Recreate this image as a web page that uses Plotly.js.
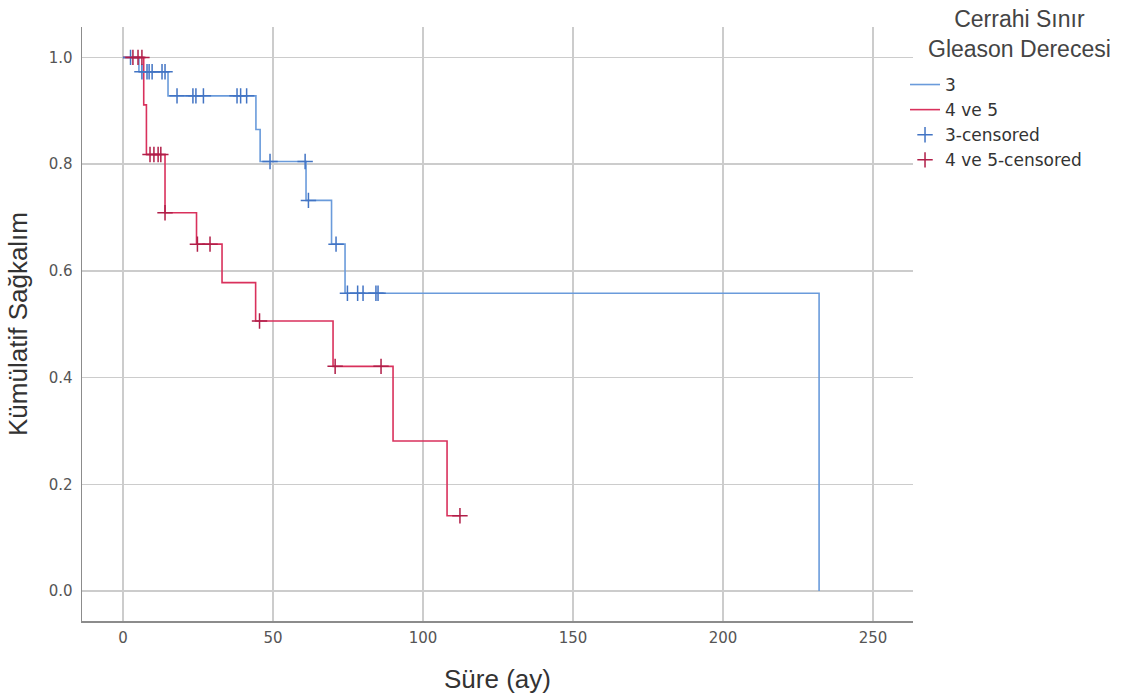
<!DOCTYPE html>
<html>
<head>
<meta charset="utf-8">
<script src="https://cdn.plot.ly/plotly-3.0.1.min.js"></script>
<style>html,body{margin:0;padding:0;background:#fff;}#chart{width:1129px;height:700px;}</style>
</head>
<body>
<div id="chart"></div>
<script>
// Group "3": Kaplan-Meier step (event times and survival after each step)
const g3Times    = [0, 5.3, 15, 44.3, 45.7, 61, 69.5, 74, 232];
const g3Surv     = [1.0, 0.973, 0.928, 0.865, 0.805, 0.732, 0.650, 0.558, 0.0];
// Group "4 ve 5"
const g45Times   = [0, 6.9, 7.8, 14, 24.5, 33, 44.2, 70, 90, 108, 112.5];
const g45Surv    = [1.0, 0.911, 0.818, 0.709, 0.650, 0.578, 0.506, 0.421, 0.281, 0.141, 0.141];
// Censored observations
const g3CensT    = [2.5, 6.3, 8, 8.7, 9.7, 13, 14, 18, 23.3, 24.3, 26.8, 38, 39.2, 41.2, 49, 60.7, 61.8, 71, 74.8, 78.2, 80, 84.3, 85];
const g3CensS    = [1.0, 0.973, 0.973, 0.973, 0.973, 0.973, 0.973, 0.928, 0.928, 0.928, 0.928, 0.928, 0.928, 0.928, 0.805, 0.805, 0.732, 0.650, 0.558, 0.558, 0.558, 0.558, 0.558];
const g45CensT   = [3.3, 5, 6.3, 9, 10.3, 11.7, 12.6, 14, 24.8, 29, 45.5, 70.7, 86, 112.3];
const g45CensS   = [1.0, 1.0, 1.0, 0.818, 0.818, 0.818, 0.818, 0.709, 0.650, 0.650, 0.506, 0.421, 0.421, 0.141];
// Labels
const seriesNames = ["3", "4 ve 5", "3-censored", "4 ve 5-censored"];
const legendTitle = "Cerrahi Sınır<br>Gleason Derecesi";
const xTicks = [0, 50, 100, 150, 200, 250];
const yTicks = [0.0, 0.2, 0.4, 0.6, 0.8, 1.0];

const blue = "#6a9bdb", red = "#d9315c";
const blueDark = "#4274c4", redDark = "#b01e48";

const traces = [
  {x: g3Times, y: g3Surv, name: seriesNames[0], type: "scatter", mode: "lines",
   line: {shape: "hv", color: blue, width: 1.6}},
  {x: g45Times, y: g45Surv, name: seriesNames[1], type: "scatter", mode: "lines",
   line: {shape: "hv", color: red, width: 1.6}},
  {x: g3CensT, y: g3CensS, name: seriesNames[2], type: "scatter", mode: "markers",
   marker: {symbol: "cross-thin", size: 11, line: {color: blueDark, width: 1.5}}},
  {x: g45CensT, y: g45CensS, name: seriesNames[3], type: "scatter", mode: "markers",
   marker: {symbol: "cross-thin", size: 11, line: {color: redDark, width: 1.5}}}
];

const layout = {
  width: 1129, height: 700,
  paper_bgcolor: "#fff", plot_bgcolor: "#fff",
  margin: {l: 82, r: 216, t: 27, b: 79, autoexpand: false},
  showlegend: true,
  legend: {
    x: 0.9904, xanchor: "left", y: 0.9327, yanchor: "top",
    font: {family: "DejaVu Sans", size: 17, color: "#333"},
    bgcolor: "rgba(0,0,0,0)", borderwidth: 0, tracegroupgap: 0
  },
  annotations: [{
    text: legendTitle, xref: "paper", yref: "paper", x: 1.1276, y: 0.989,
    xanchor: "center", yanchor: "middle", align: "center", showarrow: false,
    font: {family: "Liberation Sans", size: 23, color: "#444"}
  }],
  xaxis: {
    range: [-13.67, 263.3], tickvals: xTicks, ticktext: xTicks.map(String),
    showgrid: true, gridcolor: "#cccccc", gridwidth: 1.3, zeroline: false,
    showline: true, linecolor: "#8c8c8c", linewidth: 1.5, mirror: false,
    ticks: "", ticklabelstandoff: 2,
    tickfont: {family: "DejaVu Sans", size: 15, color: "#555"},
    title: {text: "Süre (ay)", standoff: 24, font: {family: "Liberation Sans", size: 26, color: "#333"}}
  },
  yaxis: {
    range: [-0.0562, 1.057], tickvals: yTicks, ticktext: yTicks.map(v => v.toFixed(1)),
    showgrid: true, gridcolor: "#cccccc", gridwidth: 1.3, zeroline: false,
    showline: true, linecolor: "#8c8c8c", linewidth: 1.5, mirror: false,
    ticks: "", ticklabelstandoff: 5,
    tickfont: {family: "DejaVu Sans", size: 15, color: "#555"},
    title: {text: "Kümülatif Sağkalım", standoff: 13, font: {family: "Liberation Sans", size: 26, color: "#333"}}
  }
};

Plotly.newPlot("chart", traces, layout, {displayModeBar: false, staticPlot: true});
</script>
</body>
</html>
